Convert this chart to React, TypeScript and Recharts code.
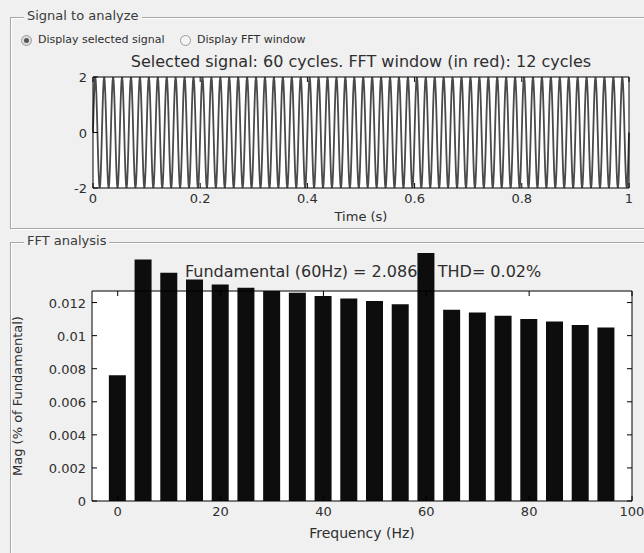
import { LineChart, Line, BarChart, Bar, XAxis, YAxis, CartesianGrid } from 'recharts';

// one cycle of the selected signal (amplitude 2), shown for 60 cycles over 1 s
const signalCycle = [0, 0.77, 1.41, 1.85, 2, 1.85, 1.41, 0.77, 0, -0.77, -1.41, -1.85, -2, -1.85, -1.41, -0.77];
const signalCycles = 60;
const timeTicks = [0, 0.2, 0.4, 0.6, 0.8, 1];
const signalTicks = [-2, 0, 2];

// FFT magnitudes (% of fundamental)
const freqs = [0, 5, 10, 15, 20, 25, 30, 35, 40, 45, 50, 55, 60, 65, 70, 75, 80, 85, 90, 95];
const mags = [
  0.0076, 0.0146, 0.0138, 0.0134, 0.0131, 0.0129, 0.0127, 0.0126, 0.0124, 0.01225,
  0.0121, 0.0119, 0.015, 0.01156, 0.0114, 0.0112, 0.011, 0.01085, 0.01065, 0.0105,
];
const freqTicks = [0, 20, 40, 60, 80, 100];
const magTicks = [0, 0.002, 0.004, 0.006, 0.008, 0.01, 0.012];

const signalData = Array.from({ length: signalCycles * signalCycle.length + 1 }, (_, i) => ({
  t: i / (signalCycles * signalCycle.length),
  v: signalCycle[i % signalCycle.length],
}));
const fftData = freqs.map((f, i) => ({ f, mag: mags[i] }));

const font = '"DejaVu Sans", "Liberation Sans", Arial, sans-serif';
const txt = '#2e2e2e';

const BottomTick = (p: any) => (
  <g>
    <line x1={p.x} y1={p.y} x2={p.x} y2={p.y - 5} stroke="#000" />
    <text x={p.x} y={p.y + 15} textAnchor="middle" fontSize={13} fill={txt} fontFamily={font}>
      {String(p.payload.value)}
    </text>
  </g>
);
const LeftTick = (p: any) => (
  <g>
    <line x1={p.x} y1={p.y} x2={p.x + 5} y2={p.y} stroke="#000" />
    <text x={p.x - 6} y={p.y + 5} textAnchor="end" fontSize={13} fill={txt} fontFamily={font}>
      {String(p.payload.value)}
    </text>
  </g>
);
const RightTick = (p: any) => <line x1={p.x} y1={p.y} x2={p.x - 5} y2={p.y} stroke="#000" />;
const TopTick = (p: any) => <line x1={p.x} y1={p.y} x2={p.x} y2={p.y + 5} stroke="#000" />;

const panel = (top: number, height: number): React.CSSProperties => ({
  position: 'absolute',
  left: 10,
  top,
  width: 640,
  height,
  border: '1px solid #a8a8a8',
  boxShadow: 'inset 1px 1px 0 #fff, 1px 1px 0 #fff',
});
const legend = (top: number): React.CSSProperties => ({
  position: 'absolute',
  left: 24,
  top,
  padding: '0 3px',
  background: '#f0f0f0',
  fontSize: 13,
  color: '#3a3a3a',
});

const Radio = ({ x, on }: { x: number; on?: boolean }) => (
  <div
    style={{
      position: 'absolute',
      left: x,
      top: 35,
      width: 9,
      height: 9,
      borderRadius: '50%',
      border: '1px solid #9a9a9a',
      background: on ? '#ddd' : '#f4f4f4',
    }}
  >
    {on && (
      <div style={{ position: 'absolute', left: 2, top: 2, width: 5, height: 5, borderRadius: '50%', background: '#555' }} />
    )}
  </div>
);

export default function App() {
  return (
    <div
      className="fft-chart"
      style={{ position: 'fixed', left: 0, top: 0, width: 644, height: 553, background: '#f0f0f0', overflow: 'hidden', fontFamily: font, color: txt }}
    >
      <style>{`.fft-chart .recharts-layer[clip-path] { clip-path: none !important; }`}</style>

      <div style={panel(17, 210)} />
      <div style={legend(8)}>Signal to analyze</div>
      <Radio x={21} on />
      <div style={{ position: 'absolute', left: 38, top: 33, fontSize: 11 }}>Display selected signal</div>
      <Radio x={180} />
      <div style={{ position: 'absolute', left: 197, top: 33, fontSize: 11 }}>Display FFT window</div>
      <div style={{ position: 'absolute', left: 93, width: 536, top: 52, textAlign: 'center', fontSize: 16 }}>
        Selected signal: 60 cycles. FFT window (in red): 12 cycles
      </div>

      <div style={panel(242, 330)} />
      <div style={legend(233)}>FFT analysis</div>

      <div style={{ position: 'absolute', left: 0, top: 0 }}>
        <LineChart width={644} height={232} data={signalData} margin={{ top: 76, right: 14, bottom: 14, left: 33 }}>
          <CartesianGrid fill="#fff" horizontal={false} vertical={false} />
          <XAxis
            dataKey="t"
            type="number"
            domain={[0, 1]}
            ticks={timeTicks}
            height={30}
            tickSize={0}
            tickMargin={0}
            tickLine={false}
            stroke="#000"
            tick={(p: any) => <BottomTick {...p} />}
            label={{ value: 'Time (s)', position: 'insideBottom', offset: -3, fontSize: 13, fill: txt, fontFamily: font }}
          />
          <XAxis xAxisId="t" dataKey="t" type="number" domain={[0, 1]} ticks={timeTicks} orientation="top" height={1} tickSize={0} tickMargin={0} tickLine={false} stroke="#000" tick={(p: any) => <TopTick {...p} />} />
          <YAxis
            type="number"
            domain={[-2, 2]}
            ticks={signalTicks}
            width={60}
            tickSize={0}
            tickMargin={0}
            tickLine={false}
            stroke="#000"
            tick={(p: any) => <LeftTick {...p} />}
          />
          <YAxis yAxisId="r" orientation="right" type="number" domain={[-2, 2]} ticks={signalTicks} width={1} tickSize={0} tickMargin={0} tickLine={false} stroke="#000" tick={(p: any) => <RightTick {...p} />} />
          <Line type="linear" dataKey="v" stroke="#4a4a4a" strokeWidth={1.8} dot={false} isAnimationActive={false} />
        </LineChart>
      </div>

      <div style={{ position: 'absolute', left: 185, top: 262, fontSize: 16, whiteSpace: 'pre' }}>
        {'Fundamental (60Hz) = 2.086 ,  THD= 0.02%'}
      </div>

      <div style={{ position: 'absolute', left: 0, top: 232 }}>
        <BarChart width={644} height={321} data={fftData} margin={{ top: 58, right: 11, bottom: 12, left: 12 }}>
          <CartesianGrid fill="#fff" horizontal={false} vertical={false} />
          <XAxis
            dataKey="f"
            type="number"
            domain={[-5, 100]}
            ticks={freqTicks}
            height={40}
            tickSize={0}
            tickMargin={0}
            tickLine={false}
            stroke="#000"
            allowDataOverflow
            tick={(p: any) => <BottomTick {...p} />}
            label={{ value: 'Frequency (Hz)', position: 'insideBottom', offset: 3, fontSize: 14, fill: txt, fontFamily: font }}
          />
          <XAxis xAxisId="t" dataKey="f" type="number" domain={[-5, 100]} ticks={freqTicks} orientation="top" height={1} tickSize={0} tickMargin={0} tickLine={false} stroke="#000" tick={(p: any) => <TopTick {...p} />} />
          <YAxis
            type="number"
            domain={[0, 0.0127]}
            allowDataOverflow
            ticks={magTicks}
            width={80}
            tickSize={0}
            tickMargin={0}
            tickLine={false}
            stroke="#000"
            tick={(p: any) => <LeftTick {...p} />}
            label={{ value: 'Mag (% of Fundamental)', angle: -90, position: 'insideLeft', offset: 5, fontSize: 13, fill: txt, fontFamily: font, style: { textAnchor: 'middle' } }}
          />
          <YAxis yAxisId="r" orientation="right" type="number" domain={[0, 0.0127]} allowDataOverflow ticks={magTicks} width={1} tickSize={0} tickMargin={0} tickLine={false} stroke="#000" tick={(p: any) => <RightTick {...p} />} />
          <Bar dataKey="mag" fill="#0d0d0d" barSize={17} isAnimationActive={false} />
        </BarChart>
      </div>
    </div>
  );
}
